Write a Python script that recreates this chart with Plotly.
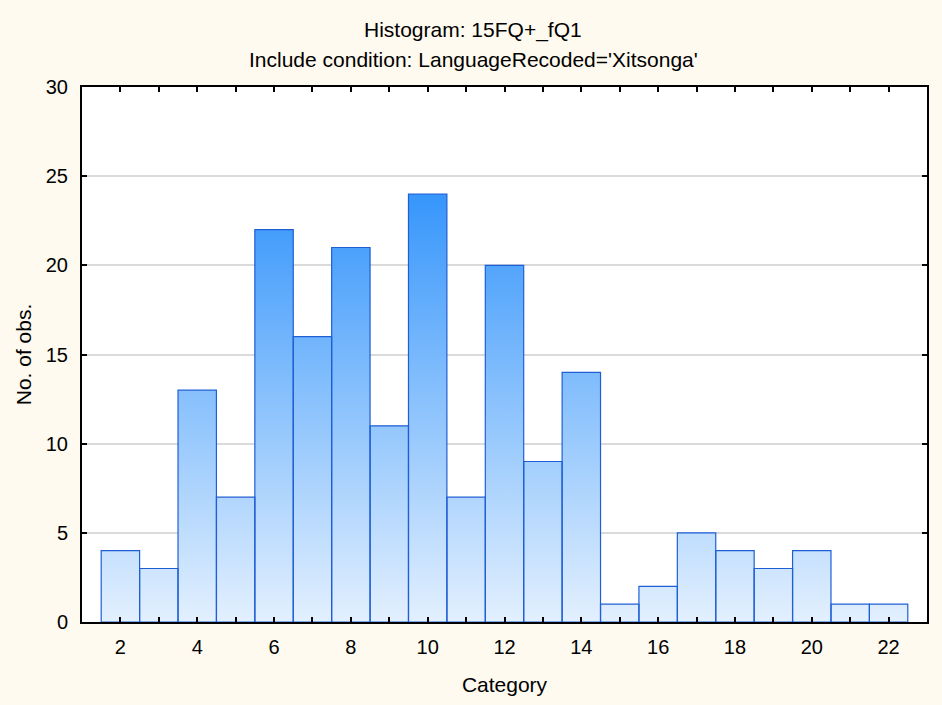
import plotly.graph_objects as go

# histogram data
categories = list(range(2, 23))
counts = [4, 3, 13, 7, 22, 16, 21, 11, 24, 7, 20, 9, 14, 1, 2, 5, 4, 3, 4, 1, 1]
x_tick_labels = [str(c) if c % 2 == 0 else "" for c in categories]

title_main = "Histogram: 15FQ+_fQ1"
title_sub = "Include condition: LanguageRecoded='Xitsonga'"

W, H = 942, 705
L, R, T, B = 82, 15, 87, 83

# each bar as a closed outline so it can take a vertical gradient fill
xs, ys = [], []
for c, n in zip(categories, counts):
    xs += [c - 0.5, c - 0.5, c + 0.5, c + 0.5, c - 0.5, None]
    ys += [0, n, n, 0, 0, None]

fig = go.Figure()
fig.add_trace(
    go.Scatter(
        x=xs,
        y=ys,
        mode="lines",
        fill="toself",
        line=dict(color="#1f5fd6", width=1.2),
        fillgradient=dict(
            type="vertical",
            colorscale=[[0, "#e3f0fe"], [1, "#2f92fb"]],
            start=0,
            stop=25,
        ),
        hoverinfo="skip",
        showlegend=False,
    )
)

family = "Liberation Sans, Arial, sans-serif"
text_font = dict(family=family, size=21, color="#000000")
tick_font = dict(family=family, size=20, color="#000000")


def px_to_paper_y(ypx):
    # pixel row from top of page -> paper fraction of the plot area
    return (H - B - ypx) / (H - T - B)


def px_to_paper_x(xpx):
    return (xpx - L) / (W - L - R)


fig.update_layout(
    width=W,
    height=H,
    paper_bgcolor="#fefaef",
    plot_bgcolor="#ffffff",
    margin=dict(l=L, r=R, t=T, b=B),
    font=tick_font,
    showlegend=False,
    annotations=[
        dict(text=title_main, x=px_to_paper_x(473), y=px_to_paper_y(30),
             xref="paper", yref="paper", yanchor="middle",
             showarrow=False, font=text_font),
        dict(text=title_sub, x=px_to_paper_x(473), y=px_to_paper_y(59),
             xref="paper", yref="paper", yanchor="middle",
             showarrow=False, font=text_font),
    ],
)

axis_style = dict(
    ticks="inside",
    ticklen=5,
    tickwidth=2,
    tickcolor="#000000",
    showline=True,
    linecolor="#000000",
    linewidth=2,
    mirror="ticks",
    zeroline=False,
    automargin=False,
    tickfont=tick_font,
)

fig.update_xaxes(
    range=[1, 23],
    tickvals=categories,
    ticktext=x_tick_labels,
    showgrid=False,
    ticklabelstandoff=6,
    title=dict(text="Category", font=text_font, standoff=20),
    **axis_style,
)
fig.update_yaxes(
    range=[0, 30],
    dtick=5,
    showgrid=True,
    gridcolor="#dadada",
    gridwidth=1.5,
    ticklabelstandoff=8,
    title=dict(text="No. of obs.", font=text_font, standoff=8),
    **axis_style,
)

fig.write_html(
    "out.html",
    config={"displayModeBar": False},
    post_script="document.body.style.margin='0';"
    "document.body.style.background='#fefaef';",
)
